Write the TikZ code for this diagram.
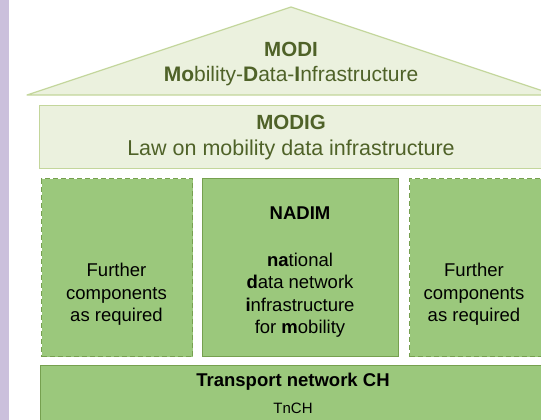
\documentclass[tikz,border=0pt]{standalone}
\usepackage{fontspec}
\setmainfont{Liberation Sans}
\begin{document}
\begin{tikzpicture}[x=1pt,y=-1pt,
  lightbox/.style={draw=lightedge,fill=lightfill,line width=1.2pt},
  compbox/.style={draw=darkedge,fill=compfill,line width=1.2pt},
  optbox/.style={compbox,dash pattern=on 5pt off 3pt},
  olivetext/.style={text=olive,inner sep=0pt,align=center},
  blacktext/.style={text=black,inner sep=0pt,align=center},
]
\definecolor{lightfill}{HTML}{EBF1DE}
\definecolor{lightedge}{HTML}{C3D69B}
\definecolor{compfill}{HTML}{9BC87C}
\definecolor{darkedge}{HTML}{76A04F}
\definecolor{olive}{HTML}{4F6228}
\definecolor{lavender}{HTML}{CBC0DC}

\useasboundingbox (0,0) rectangle (541,420);
\clip (0,0) rectangle (541,420);

% side stripe
\fill[lavender] (0,0) rectangle (8.5,420);

% roof
\coordinate (roofL) at (27,95);
\coordinate (roofT) at (291,7);
\coordinate (roofR) at (555,95);
\draw[lightbox,line join=round] (roofL) -- (roofT) -- (roofR) -- cycle;
\node[olivetext,font=\bfseries\fontsize{20.5}{24}\selectfont] (modi) at (291,49) {MODI};
\node[olivetext,font=\fontsize{21}{24}\selectfont] (modiname) at (291,76)
  {\textbf{Mo}bility-\textbf{D}ata-\textbf{I}nfrastructure};

% law layer
\node[lightbox,anchor=north west,minimum width=504pt,minimum height=63pt] (modig) at (39,104.5) {};
\node[olivetext,font=\bfseries\fontsize{20.5}{24}\selectfont] (modigtitle) at (291,122) {MODIG};
\node[olivetext,font=\fontsize{21.5}{24}\selectfont] (modiglaw) at (291,150) {Law on mobility data infrastructure};

% component pillars
\node[optbox,anchor=north west,minimum width=151pt,minimum height=178pt] (left) at (41,178) {};
\node[compbox,anchor=north west,minimum width=196pt,minimum height=178pt] (nadim) at (202,178) {};
\node[optbox,anchor=north west,minimum width=160pt,minimum height=178pt] (right) at (409,178) {};

\node[blacktext,font=\fontsize{18.5}{22.5}\selectfont] (lefttext) at (116.5,294.5)
  {Further\\components\\as required};
\node[blacktext,font=\bfseries\fontsize{18.5}{22.5}\selectfont] (nadimtitle) at (300,213) {NADIM};
\node[blacktext,font=\fontsize{18.5}{22.5}\selectfont] (nadimtext) at (300,295)
  {\textbf{na}tional\\\textbf{d}ata network\\\textbf{i}nfrastructure\\for \textbf{m}obility};
\node[blacktext,font=\fontsize{18.5}{22.5}\selectfont] (righttext) at (474,294.5)
  {Further\\components\\as required};

% base layer
\node[compbox,anchor=north west,minimum width=530pt,minimum height=70pt] (tnch) at (40,364.5) {};
\node[blacktext,font=\bfseries\fontsize{18.5}{22}\selectfont] (tnchtitle) at (293,382) {Transport network CH};
\node[blacktext,font=\fontsize{15}{18}\selectfont] (tnchshort) at (293,408) {TnCH};
\end{tikzpicture}
\end{document}
